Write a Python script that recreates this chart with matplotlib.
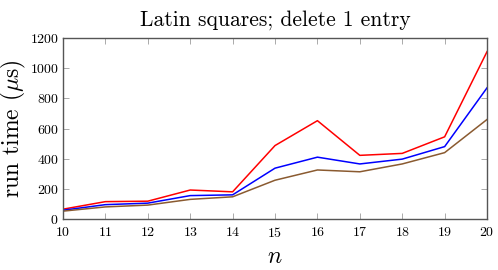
import matplotlib
matplotlib.use("Agg")
import matplotlib.pyplot as plt

# ---------------------------------------------------------
# DATOS
# ---------------------------------------------------------
n = [10, 11, 12, 13, 14, 15, 16, 17, 18, 19, 20]

rojo = [65, 115, 118, 192, 180, 487, 652, 422, 435, 545, 1110]
azul = [58, 95, 105, 155, 160, 337, 410, 365, 397, 480, 870]
marron = [52, 80, 92, 130, 147, 257, 325, 313, 365, 440, 660]

y_ticks = [0, 200, 400, 600, 800, 1000, 1200]

# ---------------------------------------------------------
# ESTILO
# ---------------------------------------------------------
plt.rcParams["font.family"] = "cmr10"
plt.rcParams["mathtext.fontset"] = "cm"
plt.rcParams["axes.formatter.use_mathtext"] = True

fig = plt.figure(figsize=(4.98, 2.70), dpi=100)
ax = fig.add_axes([0.1265, 0.189, 0.8515, 0.670])

ax.plot(n, rojo, color="red", lw=1.1)
ax.plot(n, azul, color="blue", lw=1.1)
ax.plot(n, marron, color="#8a5a30", lw=1.1)

ax.set_xlim(10, 20)
ax.set_ylim(0, 1200)
ax.set_xticks(n)
ax.set_yticks(y_ticks)

ax.tick_params(direction="in", top=True, right=True, labelsize=10,
               length=4, width=0.5, color="#888888")
ax.tick_params(axis="x", pad=5)
ax.tick_params(axis="y", pad=3)
for s in ax.spines.values():
    s.set_color("#555555")
    s.set_linewidth(1.0)

ax.set_title("Latin squares; delete 1 entry", fontsize=15.5, pad=9)
ax.set_xlabel("$n$", fontsize=17, labelpad=4)
ax.set_ylabel(r"run time ($\mu$s)", fontsize=17, labelpad=1)

plt.savefig("out.png", dpi=100)
